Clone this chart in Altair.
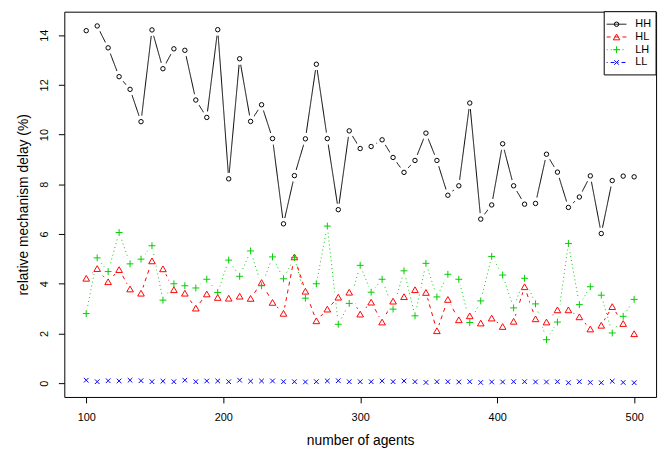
import altair as alt
import pandas as pd

agents = [100, 108, 116, 124, 132, 140, 148, 156, 164, 172, 180, 188, 196, 204,
          212, 220, 228, 236, 244, 252, 260, 268, 276, 284, 292, 300, 308, 316,
          324, 332, 340, 348, 356, 364, 372, 380, 388, 396, 404, 412, 420, 428,
          436, 444, 452, 460, 468, 476, 484, 492, 500]

hh = [14.18, 14.37, 13.49, 12.33, 11.82, 10.52, 14.21, 12.65, 13.45, 13.39,
      11.39, 10.69, 14.22, 8.22, 13.05, 10.53, 11.2, 9.84, 6.41, 8.35,
      9.83, 12.83, 9.84, 6.98, 10.15, 9.44, 9.52, 9.79, 9.08, 8.48,
      8.96, 10.06, 8.96, 7.56, 7.94, 11.27, 6.6, 7.17, 9.63, 7.94,
      7.2, 7.23, 9.21, 8.49, 7.07, 7.49, 8.34, 6.02, 8.15, 8.33, 8.3]

hl = [4.22, 4.61, 4.08, 4.57, 3.79, 3.62, 4.92, 4.6, 3.76, 3.62,
      3.02, 3.59, 3.45, 3.42, 3.5, 3.41, 4.05, 3.25, 2.81, 5.08,
      3.7, 2.51, 2.98, 3.46, 3.66, 2.78, 3.26, 2.46, 3.3, 3.48,
      3.76, 3.65, 2.11, 3.37, 2.55, 2.71, 2.42, 2.62, 2.28, 2.49,
      3.88, 2.59, 2.46, 2.95, 2.95, 2.67, 2.18, 2.33, 3.08, 2.4, 1.99]

lh = [2.8, 5.04, 4.49, 6.06, 4.8, 4.99, 5.53, 3.34, 4.0, 3.92,
      3.83, 4.18, 3.65, 4.95, 4.3, 5.32, 3.92, 5.08, 4.2, 5.05,
      3.42, 4.0, 6.32, 2.37, 3.21, 4.74, 3.66, 4.18, 2.98, 4.52,
      2.71, 4.82, 3.47, 4.38, 4.18, 2.44, 3.31, 5.1, 4.35, 3.03,
      4.22, 3.19, 1.75, 2.46, 5.62, 3.16, 3.88, 3.54, 2.02, 2.69, 3.37]

ll = [0.12, 0.06, 0.1, 0.09, 0.12, 0.1, 0.06, 0.08, 0.06, 0.12,
      0.06, 0.09, 0.09, 0.06, 0.12, 0.08, 0.09, 0.09, 0.06, 0.06,
      0.05, 0.06, 0.09, 0.1, 0.06, 0.06, 0.06, 0.09, 0.06, 0.09,
      0.06, 0.03, 0.06, 0.06, 0.05, 0.06, 0.03, 0.05, 0.05, 0.06,
      0.06, 0.05, 0.05, 0.06, 0.02, 0.06, 0.03, 0.02, 0.08, 0.03, 0.02]

series_names = ["HH", "HL", "LH", "LL"]
series_colors = ["#000000", "#FF0000", "#00CD00", "#0000FF"]
series_dash = [[1, 0], [4, 4], [1, 3], [1, 3, 4, 3]]
series_shapes = ["circle", "triangle-up", "M-1,0H1M0,-1V1", "M-1,-1L1,1M-1,1L1,-1"]
series_sizes = [20, 45, 49, 22]

x_ticks = [100, 200, 300, 400, 500]
y_ticks = [0, 2, 4, 6, 8, 10, 12, 14]

rows = []
for name, vals in zip(series_names, [hh, hl, lh, ll]):
    for a, v in zip(agents, vals):
        rows.append({"agents": a, "delay": v, "series": name})
df = pd.DataFrame(rows)
legend_df = pd.DataFrame({"series": series_names})
box_df = pd.DataFrame({"series": series_names[:1]})

all_vals = hh + hl + lh + ll
ypad = 0.04 * (max(all_vals) - min(all_vals))
xpad = 0.04 * (max(agents) - min(agents))

FONT = "Liberation Sans"

x_enc = alt.X(
    "agents:Q",
    scale=alt.Scale(domain=[min(agents) - xpad, max(agents) + xpad], nice=False, zero=False),
    axis=alt.Axis(values=x_ticks, title="number of agents", labelPadding=18,
                  labelBaseline="alphabetic", labelAlign="center",
                  titleY=48, titleBaseline="alphabetic"),
)
y_enc = alt.Y(
    "delay:Q",
    scale=alt.Scale(domain=[min(all_vals) - ypad, max(all_vals) + ypad], nice=False, zero=False),
    axis=alt.Axis(values=y_ticks, title="relative mechanism delay (%)", labelAngle=270,
                  labelAlign="center", labelBaseline="middle", labelPadding=14,
                  titleAngle=270, titleAlign="center", titleBaseline="middle",
                  titleX=-41, titleY=195),
)

color_enc = alt.Color("series:N", scale=alt.Scale(domain=series_names, range=series_colors), legend=None)
dash_enc = alt.StrokeDash("series:N", scale=alt.Scale(domain=series_names, range=series_dash), legend=None)
shape_enc = alt.Shape("series:N", scale=alt.Scale(domain=series_names, range=series_shapes), legend=None)
size_enc = alt.Size("series:N", scale=alt.Scale(type="ordinal", domain=series_names, range=series_sizes), legend=None)

lines = alt.Chart(df).mark_line(strokeWidth=1).encode(
    x=x_enc, y=y_enc, color=color_enc, strokeDash=dash_enc, order="agents:Q"
)
halo = alt.Chart(df).mark_circle(size=154, color="white", opacity=1).encode(x=x_enc, y=y_enc)
markers = alt.Chart(df).mark_point(filled=False, strokeWidth=1, opacity=1).encode(
    x=x_enc, y=y_enc, color=color_enc, shape=shape_enc, size=size_enc
)
main = alt.layer(lines, halo, markers)

ly = alt.Y("series:N", scale=alt.Scale(type="point", domain=series_names, range=[12.7, 51.4], padding=0), axis=None)

leg_box = alt.Chart(box_df).mark_rect(fill="white", stroke="black", strokeWidth=1).encode(
    x=alt.value(546.5), x2=alt.value(599), y=alt.value(0), y2=alt.value(64)
)
leg_rules = alt.Chart(legend_df).mark_rule(strokeWidth=1).encode(
    x=alt.value(549), x2=alt.value(569), y=ly, color=color_enc, strokeDash=dash_enc
)
leg_pts = alt.Chart(legend_df).mark_point(filled=False, strokeWidth=1, opacity=1).encode(
    x=alt.value(559), y=ly, color=color_enc, shape=shape_enc, size=size_enc
)
leg_text = alt.Chart(legend_df).mark_text(align="left", baseline="middle", fontSize=11, font=FONT, color="black").encode(
    x=alt.value(578), y=ly, text="series:N"
)
legend = alt.layer(leg_box, leg_rules, leg_pts, leg_text)

chart = alt.layer(main, legend).resolve_scale(y="independent").properties(
    width=599, height=390,
    autosize=alt.AutoSizeParams(type="none"),
    padding={"left": 57, "top": 1, "right": 6, "bottom": 55},
    background="white",
).configure_view(
    stroke="black", strokeWidth=1
).configure_axis(
    grid=False, domain=False, tickSize=6, tickColor="black", tickWidth=1,
    labelFont=FONT, labelFontSize=11, labelColor="black",
    titleFont=FONT, titleFontSize=14, titleFontWeight="normal", titleColor="black",
)

chart.save("out.html", embed_options={"renderer": "svg", "actions": False})
